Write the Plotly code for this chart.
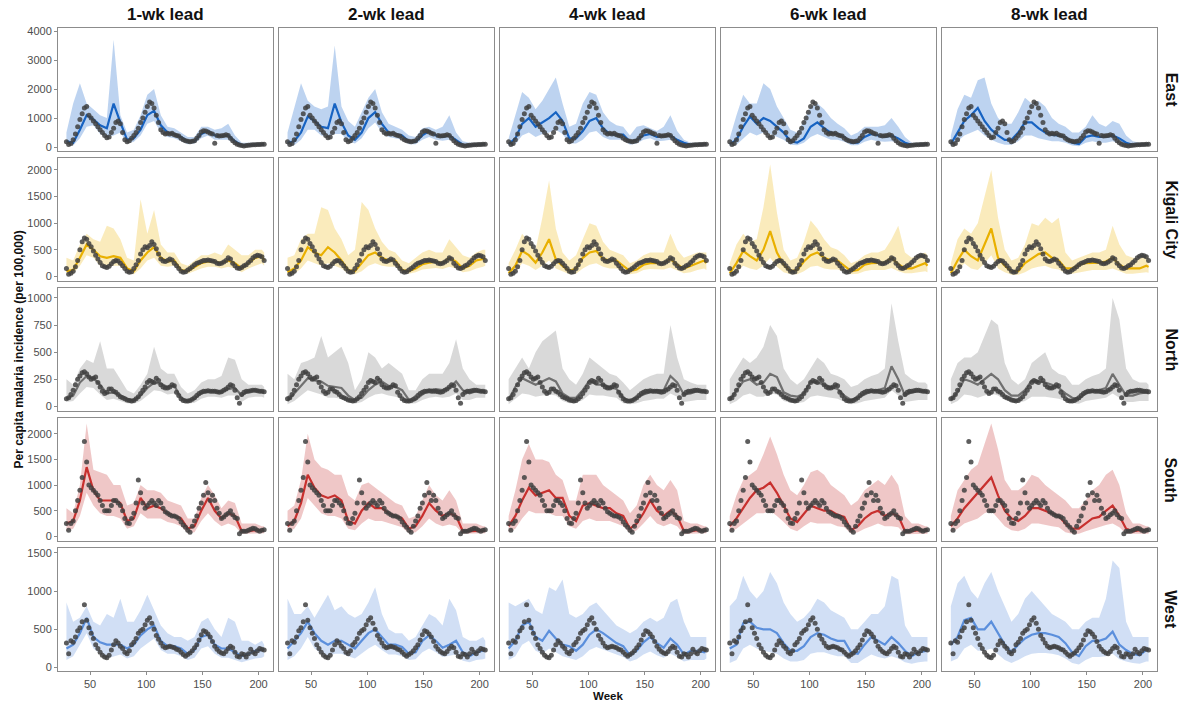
import plotly.graph_objects as go

# ---------------- data ----------------
weeks_obs = list(range(29, 206, 2))          # observed weekly incidence (every 2nd week)
weeks_fc = [29, 35, 41, 47, 53, 59, 65, 71, 77, 83, 89, 95, 101, 107, 113, 119, 125, 131,
            137, 143, 149, 155, 161, 167, 173, 179, 185, 191, 197, 203, 205]
leads = [1, 2, 4, 6, 8]
lead_labels = ["1-wk lead", "2-wk lead", "4-wk lead", "6-wk lead", "8-wk lead"]
regions = ["East", "Kigali City", "North", "South", "West"]

obs_east = [180, 90, 120, 250, 450, 700, 950, 1150, 1350, 1400,
            1100, 1000, 900, 800, 700, 600, 500, 400, 320, 350,
            500, 650, 850, 900, 800, 500, 250, 180, 220, 300,
            400, 500, 650, 850, 1000, 1200, 1400, 1550, 1500, 1350,
            1100, 850, 600, 500, 450, 480, 450, 480, 420, 400,
            380, 300, 250, 220, 200, 180, 200, 220, 300, 400,
            520, 560, 550, 520, 480, 450, 130, 400, 380, 390,
            400, 420, 400, 300, 220, 150, 100, 70, 50, 40,
            50, 60, 70, 80, 80, 90, 90, 100, 100]
obs_kigali = [150, 40, 60, 100, 180, 300, 500, 650, 720, 700,
              620, 560, 480, 400, 330, 260, 200, 180, 170, 190,
              240, 280, 300, 290, 250, 200, 150, 100, 80, 90,
              150, 220, 300, 420, 500, 560, 540, 580, 650, 600,
              520, 420, 330, 290, 280, 300, 330, 310, 250, 200,
              150, 100, 80, 90, 120, 150, 180, 220, 250, 260,
              280, 300, 300, 310, 300, 290, 280, 250, 240, 250,
              270, 300, 350, 330, 250, 200, 160, 150, 170, 200,
              220, 260, 300, 350, 380, 400, 390, 370, 300]
obs_north = [70, 80, 110, 150, 200, 250, 280, 310, 320, 300,
             270, 250, 260, 270, 220, 180, 140, 120, 130, 160,
             160, 140, 130, 110, 90, 80, 70, 60, 55, 50,
             55, 70, 90, 120, 150, 180, 220, 240, 230, 220,
             260, 240, 200, 180, 170, 170, 180, 200, 190, 130,
             100, 70, 55, 50, 50, 55, 65, 80, 100, 120,
             130, 140, 140, 145, 140, 140, 140, 135, 130, 135,
             150, 160, 180, 200, 190, 150, 80, 30, 110, 130,
             140, 140, 145, 150, 150, 145, 140, 140, 135]
obs_south = [250, 120, 250, 300, 500, 700, 900, 1150, 1850, 1450,
             1000, 950, 900, 850, 800, 700, 600, 500, 500, 500,
             600, 700, 700, 650, 600, 500, 350, 260, 250, 350,
             450, 650, 1100, 850, 650, 550, 600, 650, 700, 650,
             600, 700, 650, 550, 480, 450, 420, 400, 400, 380,
             350, 280, 220, 180, 120, 80, 200, 300, 400, 550,
             650, 800, 1050, 850, 700, 800, 700, 550, 450, 350,
             380, 420, 450, 500, 420, 370, 350, 50, 100, 100,
             100, 120, 140, 160, 150, 120, 100, 120, 130]
obs_west = [320, 180, 350, 330, 400, 480, 520, 600, 820, 620,
            520, 450, 380, 300, 250, 200, 160, 140, 130, 160,
            230, 300, 350, 320, 280, 250, 200, 180, 220, 300,
            330, 380, 450, 480, 500, 560, 620, 650, 580, 500,
            420, 370, 320, 280, 260, 270, 280, 270, 260, 240,
            230, 200, 170, 150, 170, 190, 220, 260, 300, 360,
            430, 480, 470, 440, 400, 340, 280, 240, 210, 190,
            180, 210, 250, 280, 260, 200, 150, 140, 180, 170,
            140, 180, 240, 200, 180, 220, 250, 240, 230]

# predicted median, upper and lower bounds per lead (weeks_fc)
east_pred = {
    1: [200, 150, 600, 1100, 950, 750, 650, 1500, 850, 250, 300, 600, 1100, 1250, 750, 500, 450, 350, 200, 200, 450, 550, 400, 380, 400, 200, 60, 60, 80, 90, 100],
    2: [150, 200, 500, 1050, 900, 700, 650, 1500, 850, 400, 250, 500, 1000, 1200, 800, 500, 450, 400, 200, 180, 400, 550, 400, 350, 400, 250, 80, 60, 80, 90, 100],
    4: [100, 300, 800, 1000, 700, 850, 1000, 1200, 900, 300, 300, 550, 900, 1000, 650, 450, 420, 430, 180, 250, 400, 450, 350, 380, 400, 250, 150, 80, 90, 100, 100],
    6: [100, 250, 700, 1050, 800, 1000, 900, 700, 500, 200, 150, 300, 700, 850, 650, 500, 450, 350, 150, 150, 350, 450, 400, 350, 400, 300, 150, 80, 80, 100, 100],
    8: [100, 500, 900, 1100, 1350, 900, 600, 400, 250, 250, 500, 850, 850, 650, 500, 420, 400, 350, 150, 100, 350, 400, 350, 350, 400, 300, 150, 80, 90, 100, 100],
}
east_hi = {
    1: [500, 1500, 2200, 1500, 1300, 1100, 1000, 3700, 1100, 500, 600, 1100, 1800, 2000, 1100, 700, 650, 500, 350, 350, 700, 700, 600, 650, 800, 400, 150, 150, 150, 150, 150],
    2: [500, 1400, 2200, 1600, 1400, 1300, 1400, 3500, 1400, 900, 700, 1200, 1700, 2000, 1200, 800, 700, 600, 400, 350, 650, 700, 600, 700, 1100, 500, 200, 150, 150, 150, 150],
    4: [300, 1100, 1900, 1700, 1300, 1600, 2000, 2400, 1500, 700, 800, 1500, 1900, 1800, 1200, 900, 750, 700, 400, 700, 750, 650, 550, 700, 1100, 550, 250, 150, 150, 150, 150],
    6: [300, 1100, 1800, 1500, 1500, 2200, 2000, 1400, 1000, 600, 500, 900, 1400, 1500, 1300, 1000, 800, 650, 400, 500, 700, 700, 700, 750, 1000, 700, 350, 150, 150, 150, 150],
    8: [400, 1300, 1800, 1700, 2300, 2400, 1500, 1000, 800, 800, 1200, 1700, 1500, 1600, 1400, 1000, 800, 700, 500, 500, 700, 1100, 800, 700, 900, 800, 400, 200, 150, 150, 150],
}
east_lo = {
    1: [80, 50, 300, 700, 750, 450, 350, 400, 500, 120, 180, 400, 800, 900, 500, 350, 300, 200, 100, 120, 300, 400, 250, 250, 250, 100, 20, 30, 40, 50, 60],
    2: [50, 60, 250, 600, 600, 400, 350, 450, 450, 200, 120, 300, 650, 850, 500, 350, 300, 250, 100, 100, 250, 350, 250, 220, 250, 150, 30, 30, 40, 50, 60],
    4: [30, 100, 400, 500, 350, 450, 500, 600, 450, 120, 120, 250, 500, 550, 350, 250, 250, 250, 80, 120, 250, 300, 200, 220, 250, 120, 60, 30, 40, 50, 60],
    6: [30, 80, 300, 500, 400, 500, 450, 350, 250, 80, 60, 150, 350, 450, 350, 250, 250, 180, 60, 60, 180, 250, 200, 180, 200, 150, 60, 30, 40, 50, 60],
    8: [30, 200, 400, 500, 600, 400, 250, 150, 80, 80, 200, 400, 400, 300, 250, 200, 200, 150, 50, 30, 150, 200, 150, 150, 200, 120, 50, 30, 40, 50, 60],
}

kigali_pred = {
    1: [100, 120, 350, 600, 500, 380, 350, 380, 350, 150, 100, 300, 450, 550, 350, 280, 300, 120, 100, 180, 250, 280, 280, 250, 300, 250, 150, 250, 350, 380, 300],
    2: [80, 150, 300, 550, 450, 400, 550, 450, 300, 120, 100, 250, 400, 450, 350, 300, 300, 120, 100, 150, 230, 260, 280, 250, 350, 280, 150, 200, 300, 330, 350],
    4: [60, 200, 480, 400, 260, 450, 700, 320, 200, 100, 150, 350, 450, 480, 330, 300, 300, 200, 100, 130, 220, 250, 250, 250, 330, 220, 150, 200, 250, 300, 250],
    6: [60, 250, 480, 380, 300, 500, 850, 450, 220, 100, 120, 280, 400, 450, 350, 300, 300, 200, 100, 120, 220, 250, 250, 260, 350, 230, 150, 150, 200, 250, 200],
    8: [60, 300, 500, 380, 300, 600, 900, 350, 200, 100, 100, 250, 330, 420, 450, 350, 300, 150, 150, 220, 250, 250, 260, 280, 350, 220, 150, 150, 150, 200, 180],
}
kigali_hi = {
    1: [350, 300, 600, 800, 700, 650, 950, 900, 700, 350, 300, 1450, 800, 1250, 600, 450, 450, 250, 200, 300, 400, 400, 450, 400, 600, 500, 400, 400, 500, 500, 450],
    2: [350, 400, 700, 800, 800, 1300, 1250, 900, 700, 400, 500, 1400, 1250, 900, 650, 500, 450, 300, 250, 350, 450, 500, 450, 450, 700, 550, 400, 350, 450, 500, 500],
    4: [250, 500, 800, 650, 500, 1100, 1800, 900, 450, 300, 400, 700, 1000, 950, 650, 500, 450, 400, 250, 300, 400, 450, 450, 450, 800, 500, 350, 400, 450, 450, 450],
    6: [250, 600, 800, 650, 700, 1300, 2100, 1200, 500, 300, 350, 650, 1050, 900, 700, 550, 500, 400, 250, 300, 400, 450, 450, 500, 700, 950, 450, 350, 400, 450, 400],
    8: [250, 700, 900, 800, 1000, 1500, 2000, 1100, 500, 300, 350, 600, 1000, 950, 1100, 1000, 1100, 450, 300, 350, 400, 450, 450, 500, 950, 600, 400, 350, 350, 400, 350],
}
kigali_lo = {
    1: [40, 40, 200, 400, 350, 200, 180, 200, 200, 60, 40, 150, 300, 350, 200, 180, 200, 60, 50, 100, 150, 180, 180, 150, 180, 150, 80, 150, 200, 250, 200],
    2: [30, 50, 150, 300, 250, 200, 250, 200, 150, 50, 40, 100, 200, 250, 200, 180, 180, 60, 50, 80, 130, 150, 160, 140, 180, 150, 80, 100, 150, 180, 200],
    4: [20, 80, 250, 200, 120, 200, 300, 150, 100, 40, 50, 150, 220, 250, 180, 150, 150, 80, 40, 60, 120, 140, 140, 130, 170, 120, 60, 80, 120, 150, 120],
    6: [20, 80, 200, 150, 120, 200, 350, 180, 80, 40, 40, 100, 180, 200, 150, 130, 130, 80, 40, 50, 100, 120, 120, 120, 160, 100, 60, 60, 80, 100, 80],
    8: [20, 100, 250, 150, 120, 250, 400, 150, 80, 30, 30, 80, 150, 180, 200, 150, 130, 60, 50, 80, 100, 120, 120, 120, 150, 100, 50, 50, 60, 80, 70],
}

north_pred = {
    1: [70, 100, 220, 280, 260, 200, 120, 130, 100, 70, 55, 100, 170, 220, 210, 180, 190, 80, 50, 70, 120, 140, 140, 130, 160, 170, 100, 140, 150, 140, 130],
    2: [50, 120, 200, 260, 240, 230, 190, 180, 170, 100, 60, 80, 150, 200, 230, 190, 180, 150, 60, 60, 110, 150, 160, 150, 170, 230, 150, 120, 140, 140, 130],
    4: [60, 180, 260, 230, 200, 230, 260, 230, 120, 80, 80, 150, 240, 200, 200, 180, 160, 80, 50, 80, 110, 130, 150, 150, 280, 220, 110, 120, 140, 140, 130],
    6: [60, 150, 230, 250, 200, 220, 300, 270, 130, 100, 90, 120, 230, 220, 200, 180, 160, 100, 60, 80, 110, 140, 150, 170, 370, 250, 100, 130, 140, 140, 130],
    8: [60, 130, 250, 230, 200, 250, 300, 250, 150, 100, 100, 150, 240, 230, 220, 200, 170, 120, 80, 70, 120, 140, 150, 170, 300, 200, 100, 100, 120, 130, 120],
}
north_hi = {
    1: [250, 200, 350, 430, 400, 600, 350, 350, 250, 150, 120, 200, 300, 550, 350, 300, 300, 180, 120, 150, 220, 250, 250, 280, 450, 430, 250, 200, 200, 200, 180],
    2: [300, 250, 400, 420, 450, 650, 450, 500, 550, 400, 150, 250, 500, 450, 350, 400, 350, 300, 150, 150, 250, 300, 300, 300, 400, 620, 350, 250, 200, 200, 200],
    4: [250, 350, 450, 350, 500, 600, 650, 700, 350, 250, 200, 300, 450, 400, 350, 300, 280, 220, 150, 200, 250, 280, 300, 300, 750, 450, 250, 220, 200, 200, 200],
    6: [250, 350, 450, 400, 450, 550, 750, 650, 350, 250, 200, 250, 350, 450, 400, 300, 280, 250, 180, 200, 250, 280, 300, 350, 950, 600, 300, 250, 220, 220, 200],
    8: [250, 400, 450, 450, 500, 650, 800, 750, 400, 250, 200, 250, 400, 450, 500, 350, 300, 280, 200, 200, 250, 280, 300, 350, 1000, 800, 350, 250, 220, 220, 200],
}
north_lo = {
    1: [40, 50, 120, 180, 170, 110, 60, 70, 50, 30, 25, 50, 100, 150, 140, 110, 120, 40, 25, 35, 70, 90, 90, 80, 100, 100, 40, 80, 90, 90, 80],
    2: [20, 50, 100, 150, 130, 110, 80, 80, 70, 40, 25, 40, 80, 110, 120, 100, 90, 70, 25, 30, 60, 80, 90, 80, 90, 120, 60, 60, 80, 80, 80],
    4: [20, 70, 120, 110, 90, 100, 110, 100, 50, 30, 30, 60, 110, 100, 100, 90, 80, 30, 20, 30, 50, 60, 70, 70, 120, 90, 40, 50, 60, 60, 60],
    6: [20, 50, 100, 120, 90, 90, 120, 110, 50, 35, 30, 40, 90, 100, 90, 80, 70, 40, 20, 30, 50, 60, 70, 80, 150, 100, 40, 50, 60, 60, 60],
    8: [20, 50, 110, 100, 80, 100, 120, 100, 60, 40, 35, 50, 90, 90, 90, 80, 70, 50, 30, 25, 50, 60, 70, 80, 120, 80, 40, 40, 50, 50, 50],
}

south_pred = {
    1: [250, 300, 700, 1350, 900, 700, 700, 700, 650, 300, 350, 750, 550, 600, 550, 450, 400, 350, 150, 200, 500, 750, 500, 350, 450, 400, 100, 100, 120, 110, 110],
    2: [200, 300, 650, 1200, 950, 800, 750, 800, 700, 300, 250, 500, 650, 550, 550, 450, 400, 350, 150, 200, 400, 650, 500, 400, 450, 400, 100, 100, 110, 110, 110],
    4: [200, 400, 700, 950, 800, 850, 900, 750, 750, 400, 300, 600, 650, 600, 550, 550, 450, 400, 150, 250, 450, 700, 500, 400, 500, 400, 100, 100, 120, 110, 110],
    6: [200, 350, 550, 750, 900, 950, 1050, 850, 600, 350, 280, 450, 600, 550, 500, 500, 420, 380, 120, 200, 350, 450, 500, 400, 450, 400, 100, 100, 120, 110, 110],
    8: [200, 350, 550, 700, 850, 1000, 1150, 800, 500, 350, 300, 400, 550, 550, 500, 450, 400, 250, 150, 150, 250, 350, 380, 500, 600, 400, 150, 100, 120, 110, 110],
}
south_hi = {
    1: [550, 450, 1000, 2200, 1300, 1250, 1200, 1000, 1000, 600, 650, 1000, 900, 900, 850, 700, 650, 600, 350, 350, 750, 1000, 800, 550, 700, 650, 250, 250, 250, 200, 200],
    2: [500, 600, 1100, 2000, 1500, 1350, 1300, 1200, 1200, 800, 700, 1000, 1050, 950, 850, 750, 650, 600, 350, 400, 700, 1000, 800, 700, 900, 700, 250, 250, 250, 200, 200],
    4: [400, 900, 1500, 1800, 1500, 1500, 1450, 1200, 1100, 700, 700, 1200, 1200, 1200, 1000, 900, 800, 700, 450, 600, 1000, 1200, 1000, 900, 1100, 900, 300, 250, 250, 200, 200],
    6: [400, 800, 1100, 1200, 1300, 1600, 1950, 1600, 1200, 900, 800, 1000, 1250, 1300, 1200, 1000, 900, 800, 600, 700, 900, 1000, 1100, 1000, 1200, 1000, 400, 250, 250, 200, 200],
    8: [400, 900, 1100, 1300, 1400, 1800, 2200, 1700, 1100, 900, 900, 1000, 1200, 1150, 1000, 900, 800, 700, 550, 550, 700, 900, 1000, 1200, 1300, 1000, 450, 250, 250, 200, 200],
}
south_lo = {
    1: [100, 150, 400, 850, 600, 450, 400, 400, 350, 150, 200, 450, 350, 350, 350, 280, 250, 200, 60, 80, 300, 450, 300, 200, 250, 200, 50, 50, 60, 60, 60],
    2: [80, 150, 350, 750, 600, 450, 400, 400, 350, 150, 120, 250, 350, 300, 300, 250, 220, 180, 60, 80, 200, 350, 250, 200, 230, 200, 50, 50, 60, 60, 60],
    4: [80, 150, 350, 500, 450, 450, 450, 400, 400, 200, 150, 300, 350, 300, 300, 300, 250, 200, 60, 120, 250, 400, 250, 200, 250, 200, 40, 50, 60, 60, 60],
    6: [80, 150, 250, 350, 450, 450, 500, 400, 280, 150, 100, 200, 280, 250, 250, 250, 200, 180, 50, 80, 150, 200, 250, 200, 200, 180, 40, 40, 50, 50, 50],
    8: [80, 150, 250, 300, 350, 450, 500, 350, 200, 120, 100, 150, 250, 250, 220, 200, 180, 80, 50, 50, 100, 150, 180, 220, 250, 180, 50, 40, 50, 50, 50],
}

west_pred = {
    1: [250, 300, 450, 650, 400, 330, 300, 300, 300, 250, 300, 420, 500, 550, 350, 280, 280, 250, 180, 230, 400, 430, 300, 250, 250, 200, 150, 180, 220, 230, 240],
    2: [250, 350, 450, 600, 450, 350, 300, 350, 350, 300, 250, 350, 450, 500, 400, 300, 300, 270, 180, 200, 350, 420, 350, 260, 300, 350, 200, 150, 200, 220, 230],
    4: [250, 350, 550, 600, 400, 350, 480, 380, 300, 280, 220, 300, 430, 500, 450, 380, 320, 280, 160, 220, 330, 400, 320, 260, 380, 300, 170, 220, 220, 200, 240],
    6: [250, 300, 580, 600, 520, 500, 500, 450, 320, 220, 220, 280, 400, 450, 430, 380, 350, 350, 200, 180, 300, 400, 350, 300, 400, 320, 220, 150, 200, 210, 220],
    8: [300, 400, 620, 650, 500, 500, 600, 450, 300, 200, 300, 380, 430, 450, 450, 430, 400, 320, 200, 150, 280, 350, 350, 380, 470, 300, 230, 180, 160, 230, 240],
}
west_hi = {
    1: [850, 600, 650, 800, 600, 550, 700, 650, 900, 600, 600, 750, 950, 750, 550, 450, 400, 400, 350, 400, 600, 650, 500, 400, 650, 600, 350, 350, 300, 350, 300],
    2: [900, 700, 700, 800, 650, 800, 950, 750, 800, 700, 650, 700, 850, 1050, 700, 500, 450, 450, 350, 400, 550, 700, 650, 550, 900, 750, 400, 350, 350, 400, 350],
    4: [850, 800, 850, 900, 750, 700, 1050, 1000, 1150, 700, 650, 700, 800, 850, 750, 650, 550, 500, 450, 500, 600, 650, 600, 650, 850, 900, 600, 400, 400, 400, 400],
    6: [800, 900, 1200, 1000, 900, 1000, 1250, 1100, 850, 700, 600, 650, 750, 900, 850, 750, 700, 650, 500, 500, 600, 700, 700, 800, 1200, 1150, 550, 400, 400, 400, 400],
    8: [800, 1100, 1200, 1000, 900, 1100, 1250, 1000, 800, 600, 700, 900, 1000, 900, 800, 700, 650, 600, 500, 500, 600, 650, 650, 900, 1400, 1300, 600, 400, 400, 400, 400],
}
west_lo = {
    1: [100, 150, 300, 450, 250, 180, 120, 150, 170, 120, 150, 250, 320, 380, 230, 180, 180, 150, 100, 130, 250, 280, 180, 130, 130, 100, 70, 90, 120, 130, 150],
    2: [100, 150, 250, 400, 250, 180, 150, 180, 180, 150, 120, 180, 250, 300, 230, 170, 170, 150, 100, 110, 200, 250, 200, 140, 150, 170, 90, 70, 100, 110, 120],
    4: [100, 150, 300, 350, 220, 180, 250, 200, 150, 130, 100, 150, 230, 270, 240, 200, 170, 140, 80, 110, 170, 210, 160, 130, 180, 140, 80, 100, 100, 100, 120],
    6: [60, 100, 250, 300, 250, 220, 200, 180, 120, 80, 80, 100, 180, 200, 200, 170, 150, 150, 60, 60, 120, 170, 140, 120, 150, 120, 70, 50, 70, 80, 80],
    8: [80, 120, 250, 300, 220, 220, 250, 180, 100, 60, 100, 150, 180, 190, 190, 180, 160, 120, 60, 40, 100, 140, 140, 150, 180, 110, 80, 60, 50, 80, 80],
}

# y-axis settings per region
y_ranges = [[-150, 4105], [-91, 2226], [-44, 1093], [-92, 2315], [-44, 1567]]
y_ticks = [[0, 1000, 2000, 3000, 4000], [0, 500, 1000, 1500, 2000],
           [0, 250, 500, 750, 1000], [0, 500, 1000, 1500, 2000], [0, 500, 1000, 1500]]
x_range = [21.5, 212.5]
x_ticks = [50, 100, 150, 200]

# ---------------- styling ----------------
obs_all = [obs_east, obs_kigali, obs_north, obs_south, obs_west]
pred_all = [east_pred, kigali_pred, north_pred, south_pred, west_pred]
hi_all = [east_hi, kigali_hi, north_hi, south_hi, west_hi]
lo_all = [east_lo, kigali_lo, north_lo, south_lo, west_lo]
line_colors = ["#1763c2", "#e9b000", "#707070", "#c8302e", "#5b8fdc"]
fill_colors = ["rgba(72,134,214,0.36)", "rgba(240,200,70,0.36)", "rgba(170,170,170,0.45)",
               "rgba(210,100,100,0.36)", "rgba(120,160,225,0.34)"]
dot_color = "rgba(65,65,65,0.85)"
FONT = "Liberation Sans, Arial, Helvetica, sans-serif"

W, H = 1184, 703
ML, MR, MT, MB = 58, 27, 28, 32
PW, PH = W - ML - MR, H - MT - MB
GX, GY = 6.5, 6.5
CW = (PW - 4 * GX) / 5
RH = (PH - 4 * GY) / 5

fig = go.Figure()
layout = dict(
    width=W, height=H, margin=dict(l=ML, r=MR, t=MT, b=MB),
    plot_bgcolor="white", paper_bgcolor="white", showlegend=False,
    font=dict(family=FONT, color="#4d4d4d"),
)


def fit(xs, ys):
    n = min(len(xs), len(ys))
    return list(xs[:n]), list(ys[:n])


for r in range(5):
    for c in range(5):
        idx = r * 5 + c + 1
        xa = "x" if idx == 1 else f"x{idx}"
        ya = "y" if idx == 1 else f"y{idx}"
        x0 = (c * (CW + GX)) / PW
        x1 = (c * (CW + GX) + CW) / PW
        ytop = 1 - (r * (RH + GY)) / PH
        ybot = 1 - (r * (RH + GY) + RH) / PH
        layout["xaxis" + ("" if idx == 1 else str(idx))] = dict(
            domain=[x0, x1], anchor=ya, range=x_range, showgrid=False, zeroline=False,
            showline=True, mirror=True, linecolor="#8c8c8c", linewidth=1,
            tickvals=x_ticks, showticklabels=(r == 4), ticks="outside" if r == 4 else "",
            ticklen=3, tickcolor="#8c8c8c", tickfont=dict(size=11, color="#4d4d4d", family=FONT),
        )
        layout["yaxis" + ("" if idx == 1 else str(idx))] = dict(
            domain=[ybot, ytop], anchor=xa, range=y_ranges[r], showgrid=False, zeroline=False,
            showline=True, mirror=True, linecolor="#8c8c8c", linewidth=1,
            tickvals=y_ticks[r], showticklabels=(c == 0), ticks="outside" if c == 0 else "",
            ticklen=3, tickcolor="#8c8c8c", tickfont=dict(size=11, color="#4d4d4d", family=FONT),
        )
        lead = leads[c]
        xs_h, hi = fit(weeks_fc, hi_all[r][lead])
        xs_l, lo = fit(weeks_fc, lo_all[r][lead])
        fig.add_trace(go.Scatter(
            x=xs_h + xs_l[::-1], y=hi + lo[::-1], fill="toself", mode="lines",
            line=dict(width=0), fillcolor=fill_colors[r], xaxis=xa, yaxis=ya, hoverinfo="skip"))
        xs_p, pr = fit(weeks_fc, pred_all[r][lead])
        fig.add_trace(go.Scatter(
            x=xs_p, y=pr, mode="lines", line=dict(color=line_colors[r], width=2.2),
            xaxis=xa, yaxis=ya))
        xs_o, ob = fit(weeks_obs, obs_all[r])
        fig.add_trace(go.Scatter(
            x=xs_o, y=ob, mode="markers",
            marker=dict(color=dot_color, size=5, line=dict(width=0)),
            xaxis=xa, yaxis=ya))

ann = []
for c in range(5):
    xc = (c * (CW + GX) + CW / 2) / PW
    ann.append(dict(text="<b>" + lead_labels[c] + "</b>", x=xc, y=(PH + MT - 15) / PH,
                    xref="paper", yref="paper", showarrow=False,
                    xanchor="center", yanchor="middle",
                    font=dict(size=17, color="#111111", family=FONT)))
for r in range(5):
    yc = 1 - (r * (RH + GY) + RH / 2) / PH
    ann.append(dict(text="<b>" + regions[r] + "</b>", x=(1171 - ML) / PW, y=yc,
                    xref="paper", yref="paper", showarrow=False, textangle=90,
                    xanchor="center", yanchor="middle",
                    font=dict(size=16, color="#111111", family=FONT)))
ann.append(dict(text="<b>Per capita malaria incidence (per 100,000)</b>", x=(18 - ML) / PW, y=0.5,
                xref="paper", yref="paper", showarrow=False, textangle=-90,
                xanchor="center", yanchor="middle",
                font=dict(size=12, color="#111111", family=FONT)))
ann.append(dict(text="<b>Week</b>", x=0.5, y=-(696 - (H - MB)) / PH,
                xref="paper", yref="paper", showarrow=False,
                xanchor="center", yanchor="middle",
                font=dict(size=11.5, color="#111111", family=FONT)))
layout["annotations"] = ann
fig.update_layout(**layout)
fig.write_html("out.html")
